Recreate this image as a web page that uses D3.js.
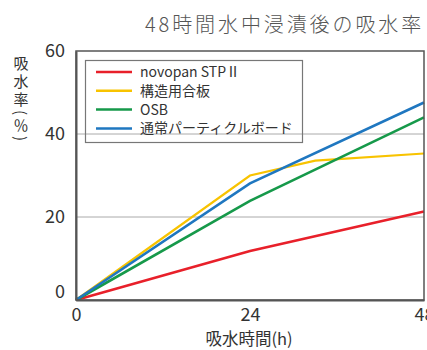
<!DOCTYPE html>
<html><head><meta charset="utf-8">
<script src="https://cdn.jsdelivr.net/npm/d3@7"></script>
<style>
html,body{margin:0;padding:0;background:#fff;}
svg{display:block;}
text{font-family:"Noto Sans CJK JP","Noto Sans",sans-serif;}
</style></head>
<body>
<svg id="chart" width="427" height="350"></svg>
<script>
const title = "48時間水中浸漬後の吸水率";
const yTitle = "吸水率(％)";
const xTitle = "吸水時間(h)";
const xTicks = [0, 24, 48];
const yTicks = [0, 20, 40, 60];
const gridValues = [20, 40];
const seriesNames = ["novopan STPⅡ", "構造用合板", "OSB", "通常パーティクルボード"];
const seriesColors = ["#e8202a", "#f8c300", "#16994a", "#1f77c0"];
const novopanHours = [0, 24, 48];
const novopanValues = [0, 11.8, 21.3];
const plywoodHours = [0, 24, 33, 48];
const plywoodValues = [0, 30.0, 33.6, 35.3];
const osbHours = [0, 24, 48];
const osbValues = [0, 23.9, 44.0];
const particleHours = [0, 24, 48];
const particleValues = [0, 28.1, 47.6];

const seriesData = [
  {hours: novopanHours, values: novopanValues},
  {hours: plywoodHours, values: plywoodValues},
  {hours: osbHours, values: osbValues},
  {hours: particleHours, values: particleValues}
];

const svg = d3.select("#chart");
const L = 76, R = 424, T = 51, B = 300;
const x = d3.scaleLinear().domain([0, 48]).range([L, R]);
const y = d3.scaleLinear().domain([0, 60]).range([B, T]);

// title
svg.append("text").attr("x", 145).attr("y", 32)
  .attr("font-size", 20).attr("fill", "#555").attr("letter-spacing", 2.9)
  .attr("font-weight", 300).text(title);

// grid lines
svg.append("g").selectAll("line").data(gridValues).join("line")
  .attr("x1", L).attr("x2", R).attr("y1", d => y(d)).attr("y2", d => y(d))
  .attr("stroke", "#aaa").attr("stroke-width", 1);

// legend box
const lg = svg.append("g");
lg.append("rect").attr("x", 85.5).attr("y", 60.5).attr("width", 217).attr("height", 82)
  .attr("fill", "none").attr("stroke", "#777").attr("stroke-width", 1.2);
const legendRows = lg.selectAll("g.row").data(seriesNames).join("g").attr("class", "row")
  .attr("transform", (d, i) => `translate(0, ${72 + i * 18.8})`);
legendRows.append("line").attr("x1", 96).attr("x2", 132).attr("y1", 0).attr("y2", 0)
  .attr("stroke", (d, i) => seriesColors[i]).attr("stroke-width", 2.5);
legendRows.append("text").attr("x", 140).attr("y", 0).attr("dy", "0.35em")
  .attr("font-size", 14).attr("fill", "#333").text(d => d);

// series lines
const line = d3.line().x(d => x(d[0])).y(d => y(d[1]));
svg.append("g").selectAll("path").data(seriesData).join("path")
  .attr("d", s => line(d3.zip(s.hours, s.values)))
  .attr("fill", "none")
  .attr("stroke", (d, i) => seriesColors[i])
  .attr("stroke-width", (d, i) => i === 1 ? 2.2 : 2.6);

// frame
svg.append("rect").attr("x", L).attr("y", T).attr("width", R - L).attr("height", B - T)
  .attr("fill", "none").attr("stroke", "#555").attr("stroke-width", 1.5);

// axes
const xAxis = svg.append("g").attr("transform", `translate(0,${B})`)
  .call(d3.axisBottom(x).tickValues(xTicks).tickSize(0).tickPadding(8));
xAxis.select(".domain").attr("stroke", "#555").attr("stroke-width", 2);
xAxis.selectAll("text").attr("font-size", 18).attr("fill", "#333")
  .attr("font-family", "'Liberation Sans', Arial, sans-serif");

const yAxis = svg.append("g").attr("transform", `translate(${L},0)`)
  .call(d3.axisLeft(y).tickValues(yTicks).tickSize(0).tickPadding(11));
yAxis.select(".domain").attr("stroke", "#555").attr("stroke-width", 2);
yAxis.selectAll("text").attr("font-size", 18).attr("fill", "#333")
  .attr("font-family", "'Liberation Sans', Arial, sans-serif")
  .attr("dy", d => d === 0 ? "-0.15em" : "0.32em");

// x title
svg.append("text").attr("x", 249).attr("y", 345).attr("text-anchor", "middle")
  .attr("font-size", 16.5).attr("fill", "#333").text(xTitle);

// y title vertical
svg.append("text")
  .attr("x", 21).attr("y", 56)
  .style("writing-mode", "vertical-rl")
  .style("text-orientation", "mixed")
  .attr("font-size", 15).attr("fill", "#333").attr("letter-spacing", 3)
  .text(yTitle);
</script>
</body></html>
